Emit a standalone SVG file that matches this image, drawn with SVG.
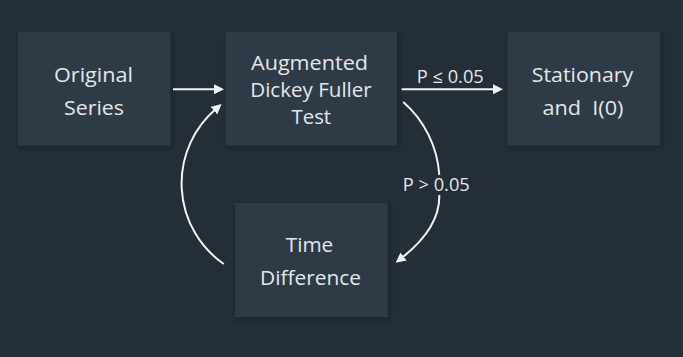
<svg xmlns="http://www.w3.org/2000/svg" width="683" height="357" viewBox="0 0 683 357">
  <style>
    .node rect { fill: #2d3a46; filter: url(#shadow); }
    .node text { font-family: "Open Sans", "Noto Sans", "DejaVu Sans", sans-serif; font-size: 20px; fill: #e4e6e8; text-anchor: middle; }
    .edge { fill: none; stroke: #f2f2f2; stroke-width: 2; }
    .edge-label { font-family: "Open Sans", "Noto Sans", "DejaVu Sans", sans-serif; font-size: 17.5px; fill: #e4e6e8; text-anchor: middle; }
  </style>
  <defs>
    <filter id="shadow" x="-10%" y="-10%" width="125%" height="125%">
      <feDropShadow dx="1.5" dy="2" stdDeviation="2" flood-color="#151c22" flood-opacity="0.6"/>
    </filter>
    <marker id="head" viewBox="0 0 10 10" refX="2" refY="5" markerWidth="10" markerHeight="10" markerUnits="userSpaceOnUse" orient="auto">
      <path d="M0,0 L10,5 L0,10 z" fill="#f2f2f2"/>
    </marker>
  </defs>

  <rect width="683" height="357" fill="#242e37"/>

  <g id="original-series" class="node">
    <rect x="18" y="31.5" width="152.5" height="114"/>
    <text x="93.5" y="82.3" textLength="79" lengthAdjust="spacingAndGlyphs">Original</text>
    <text x="94" y="114.5" textLength="60" lengthAdjust="spacingAndGlyphs">Series</text>
  </g>

  <g id="adf-test" class="node">
    <rect x="225.5" y="31.5" width="171.5" height="114"/>
    <text x="309.5" y="69.5" textLength="117" lengthAdjust="spacingAndGlyphs">Augmented</text>
    <text x="311" y="96.8" textLength="121.5" lengthAdjust="spacingAndGlyphs">Dickey Fuller</text>
    <text x="311.3" y="123.5" textLength="39.5" lengthAdjust="spacingAndGlyphs">Test</text>
  </g>

  <g id="stationary" class="node">
    <rect x="507.5" y="31.5" width="152.5" height="114"/>
    <text x="582.5" y="82.3" textLength="101.5" lengthAdjust="spacingAndGlyphs">Stationary</text>
    <text x="583" y="114.8" textLength="81" lengthAdjust="spacingAndGlyphs" xml:space="preserve">and  I(0)</text>
  </g>

  <g id="time-difference" class="node">
    <rect x="235" y="203" width="152.5" height="114"/>
    <text x="309.5" y="252.3" textLength="47.5" lengthAdjust="spacingAndGlyphs">Time</text>
    <text x="310.5" y="285" textLength="101" lengthAdjust="spacingAndGlyphs">Difference</text>
  </g>

  <g id="connectors">
    <!-- Original Series to ADF test -->
    <line class="edge" x1="173" y1="89.3" x2="216" y2="89.3" marker-end="url(#head)"/>
    <!-- ADF test to Stationary -->
    <line class="edge" x1="401.7" y1="89.3" x2="495" y2="89.3" marker-end="url(#head)"/>
    <text class="edge-label" x="450.3" y="82.7" textLength="67" lengthAdjust="spacingAndGlyphs">P ≤ 0.05</text>
    <!-- ADF test to Time Difference, broken around its label -->
    <path class="edge" d="M403.3,102 A106.5,106.5 0 0 1 439.3,175"/>
    <path class="edge" d="M439.3,195 C440,220 422,242 402,257.7" marker-end="url(#head)"/>
    <text class="edge-label" x="436.3" y="191" textLength="67" lengthAdjust="spacingAndGlyphs">P &gt; 0.05</text>
    <!-- Time Difference back to ADF test -->
    <path class="edge" d="M223.8,264 A98,98 0 0 1 215.5,109.3" marker-end="url(#head)"/>
  </g>
</svg>
